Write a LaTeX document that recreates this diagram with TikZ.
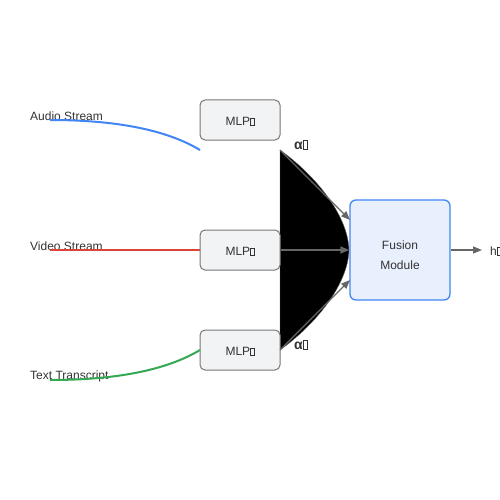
\documentclass[tikz,border=0pt]{standalone}
\usepackage{fontspec}
\setmainfont{Liberation Sans}
\usetikzlibrary{arrows.meta}
\definecolor{txt}{HTML}{333333}
\definecolor{agray}{HTML}{666666}
\definecolor{mlpfill}{HTML}{F1F3F4}
\definecolor{mlpdraw}{HTML}{777777}
\definecolor{fusfill}{HTML}{E8F0FE}
\definecolor{fusdraw}{HTML}{4285F4}
\definecolor{cblue}{HTML}{4285F4}
\definecolor{cred}{HTML}{DB4437}
\definecolor{cgreen}{HTML}{34A853}
\newcommand\tofu{{\setlength\fboxsep{0pt}\setlength\fboxrule{0.45pt}\fbox{\rule{0pt}{0.6em}\hspace{0.28em}}}}
\tikzset{
  lbl/.style={font=\fontsize{12}{14}\selectfont, text=txt, inner sep=0pt},
  mlpbox/.style={draw=mlpdraw, fill=mlpfill, rounded corners=5pt, minimum width=80pt, minimum height=40pt, line width=1pt, font=\fontsize{12}{14}\selectfont, text=txt},
  fusbox/.style={draw=fusdraw, fill=fusfill, rounded corners=6pt, minimum width=100pt, minimum height=100pt, line width=1.3pt, font=\fontsize{12}{20}\selectfont, text=txt, align=center},
  stream/.style={line width=2pt},
  arr/.style={draw=agray, line width=1.3pt, -{Triangle[length=9pt,width=7pt]}},
  alab/.style={font=\bfseries\fontsize{14}{16}\selectfont, text=txt, inner sep=0pt}
}
\begin{document}
\begin{tikzpicture}[x=1pt,y=-1pt]
\useasboundingbox (0,0) rectangle (500,500);
\fill[white] (0,0) rectangle (500,500);
% black region
\filldraw[fill=black, draw=agray, line width=0.4pt] (280,150) .. controls (315,175) and (348,215) .. (349,250) .. controls (348,285) and (315,325) .. (280,350) -- cycle;
% stream labels
\node[lbl, anchor=west] (la) at (30,116) {Audio Stream};
\node[lbl, anchor=west] (lv) at (30,246) {Video Stream};
\node[lbl, anchor=west] (lt) at (30,376) {Text Transcript};
% MLP boxes
\node[mlpbox] (m1) at (240,120) {};
\node[mlpbox] (m2) at (240,250) {};
\node[mlpbox] (m3) at (240,350) {};
\node[lbl] (t1) at (240,121.5) {MLP\tofu};
\node[lbl] (t2) at (240,251.5) {MLP\tofu};
\node[lbl] (t3) at (240,351.5) {MLP\tofu};
% fusion
\node[fusbox] (fus) at (400,250) {};
\node[lbl, align=center, font=\fontsize{12}{20}\selectfont] (ft) at (400,255.5) {Fusion\\Module};
% coordinates
\coordinate (sa) at (50,120);
\coordinate (ea) at (200,150);
\coordinate (sv) at (50,250);
\coordinate (st) at (50,380);
\coordinate (et) at (200,350);
\coordinate (o1) at (280,150);
\coordinate (o3) at (280,350);
\coordinate (f1) at (350,220);
\coordinate (f3) at (350,280);
\coordinate (hout) at (482,250);
% streams
\draw[stream, cblue] (sa) .. controls (116.7,120) and (166.7,130) .. (ea);
\draw[stream, cred] (sv) -- (m2.west);
\draw[stream, cgreen] (st) .. controls (116.7,380) and (166.7,370) .. (et);
% arrows
\draw[arr] (o1) -- (f1);
\draw[arr] (m2.east) -- (fus.west);
\draw[arr] (o3) -- (f3);
\draw[arr] (fus.east) -- (hout);
% labels
\node[alab, anchor=west] (a1) at (294,145) {α\tofu};
\node[alab, anchor=west] (a3) at (294,345) {α\tofu};
\node[lbl, anchor=west] (hl) at (490,251) {h\tofu};
\end{tikzpicture}
\end{document}
